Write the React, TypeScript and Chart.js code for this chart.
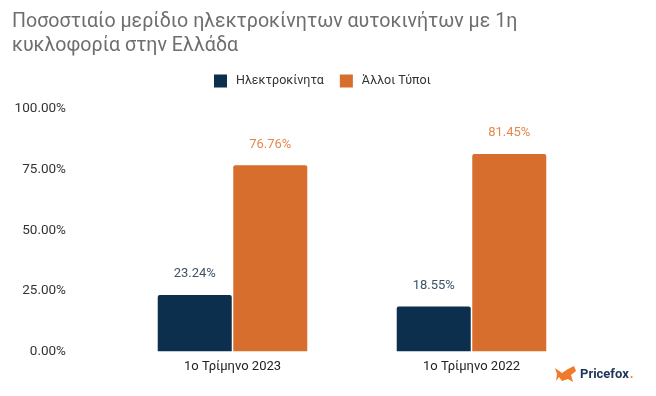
import React, { useEffect, useRef } from "react";
import { Chart, registerables } from "chart.js";

Chart.register(...registerables);

const titleLines = ["Ποσοστιαίο μερίδιο ηλεκτροκίνητων αυτοκινήτων με 1η", "κυκλοφορία στην Ελλάδα"];
const categories = ["1ο Τρίμηνο 2023", "1ο Τρίμηνο 2022"];
const electricValues = [23.24, 18.55];
const otherValues = [76.76, 81.45];
const seriesNames = ["Ηλεκτροκίνητα", "Άλλοι Τύποι"];
const yTicks = [0, 25, 50, 75, 100];

const NAVY = "#0c2f4d";
const ORANGE = "#d76e2e";
const FONT = "Roboto, 'Liberation Sans', Arial, sans-serif";

const valueLabels = {
  id: "valueLabels",
  afterDatasetsDraw(chart: any) {
    const ctx = chart.ctx;
    const colors = ["#3d5266", "#e5884e"];
    chart.data.datasets.forEach((ds: any, di: number) => {
      const meta = chart.getDatasetMeta(di);
      meta.data.forEach((bar: any, i: number) => {
        ctx.save();
        ctx.font = `13px ${FONT}`;
        ctx.fillStyle = colors[di];
        ctx.textAlign = "center";
        ctx.textBaseline = "middle";
        ctx.fillText(ds.data[i].toFixed(2) + "%", bar.x, bar.y - 21);
        ctx.restore();
      });
    });
  },
};

// Title (two lines, left aligned) and legend
const header = {
  id: "header",
  afterDraw(chart: any) {
    const ctx = chart.ctx;
    ctx.save();
    ctx.font = `19.6px ${FONT}`;
    ctx.fillStyle = "#6e6e6e";
    ctx.textBaseline = "middle";
    ctx.textAlign = "left";
    titleLines.forEach((t, i) => {
      ctx.fillText(t, 12, 22 + i * 24.5);
    });

    // legend
    ctx.font = `12.5px ${FONT}`;
    const colors = [NAVY, ORANGE];
    let x = 214;
    const cy = 81;
    seriesNames.forEach((name, i) => {
      ctx.fillStyle = colors[i];
      ctx.fillRect(x, cy - 6.5, 13, 13);
      ctx.fillStyle = "#333";
      ctx.fillText(name, x + 22, cy);
      x += 22 + ctx.measureText(name).width + 16;
    });
    ctx.restore();
  },
};

const logo = {
  id: "logo",
  afterDraw(chart: any) {
    const ctx = chart.ctx;
    ctx.save();
    ctx.fillStyle = "#f07a2a";
    ctx.beginPath();
    ctx.moveTo(555, 368);
    ctx.lineTo(562, 373);
    ctx.lineTo(568, 369);
    ctx.lineTo(574, 366);
    ctx.lineTo(576, 371);
    ctx.lineTo(571, 375);
    ctx.lineTo(573, 382);
    ctx.lineTo(568, 379);
    ctx.lineTo(562, 381);
    ctx.lineTo(559, 377);
    ctx.lineTo(556, 381);
    ctx.lineTo(557, 374);
    ctx.closePath();
    ctx.fill();
    ctx.font = `bold 13px ${FONT}`;
    ctx.fillStyle = "#1d3557";
    ctx.textAlign = "left";
    ctx.textBaseline = "middle";
    ctx.fillText("Pricefox", 580, 375);
    const w = ctx.measureText("Pricefox").width;
    ctx.fillStyle = "#f07a2a";
    ctx.fillText(".", 580 + w + 1, 375);
    ctx.restore();
  },
};

export default function App() {
  const ref = useRef<HTMLCanvasElement>(null);
  useEffect(() => {
    document.body.style.margin = "0";
    const chart = new Chart(ref.current!, {
      type: "bar",
      data: {
        labels: categories,
        datasets: [
          {
            label: seriesNames[0],
            data: electricValues,
            backgroundColor: NAVY,
            borderRadius: { topLeft: 2, topRight: 2 },
            borderSkipped: "bottom",
            barPercentage: 0.98,
            categoryPercentage: 0.632,
          },
          {
            label: seriesNames[1],
            data: otherValues,
            backgroundColor: ORANGE,
            borderRadius: { topLeft: 2, topRight: 2 },
            borderSkipped: "bottom",
            barPercentage: 0.98,
            categoryPercentage: 0.632,
          },
        ],
      },
      options: {
        responsive: false,
        animation: false,
        layout: { padding: { left: 0, right: 65, top: 109, bottom: 13 } },
        plugins: {
          title: { display: false },
          legend: { display: false },
          tooltip: { enabled: false },
        },
        scales: {
          x: {
            grid: { display: false, drawTicks: false },
            border: { display: false },
            ticks: { color: "#222", font: { family: FONT, size: 13 }, padding: 8 },
          },
          y: {
            min: 0,
            max: 100,
            grid: { display: false, drawTicks: false },
            border: { display: false },
            afterFit(scale: any) {
              scale.width = 113;
              scale.paddingTop = 8;
              scale.paddingBottom = 8;
            },
            afterBuildTicks(scale: any) {
              scale.ticks = yTicks.map((v) => ({ value: v }));
            },
            ticks: {
              color: "#333",
              font: { family: FONT, size: 13.5 },
              padding: 47,
              callback: (v: any) => Number(v).toFixed(2) + "%",
            },
          },
        },
      },
      plugins: [valueLabels, header, logo],
    });
    return () => chart.destroy();
  }, []);
  return <canvas ref={ref} width={656} height={396} style={{ display: "block" }} />;
}
